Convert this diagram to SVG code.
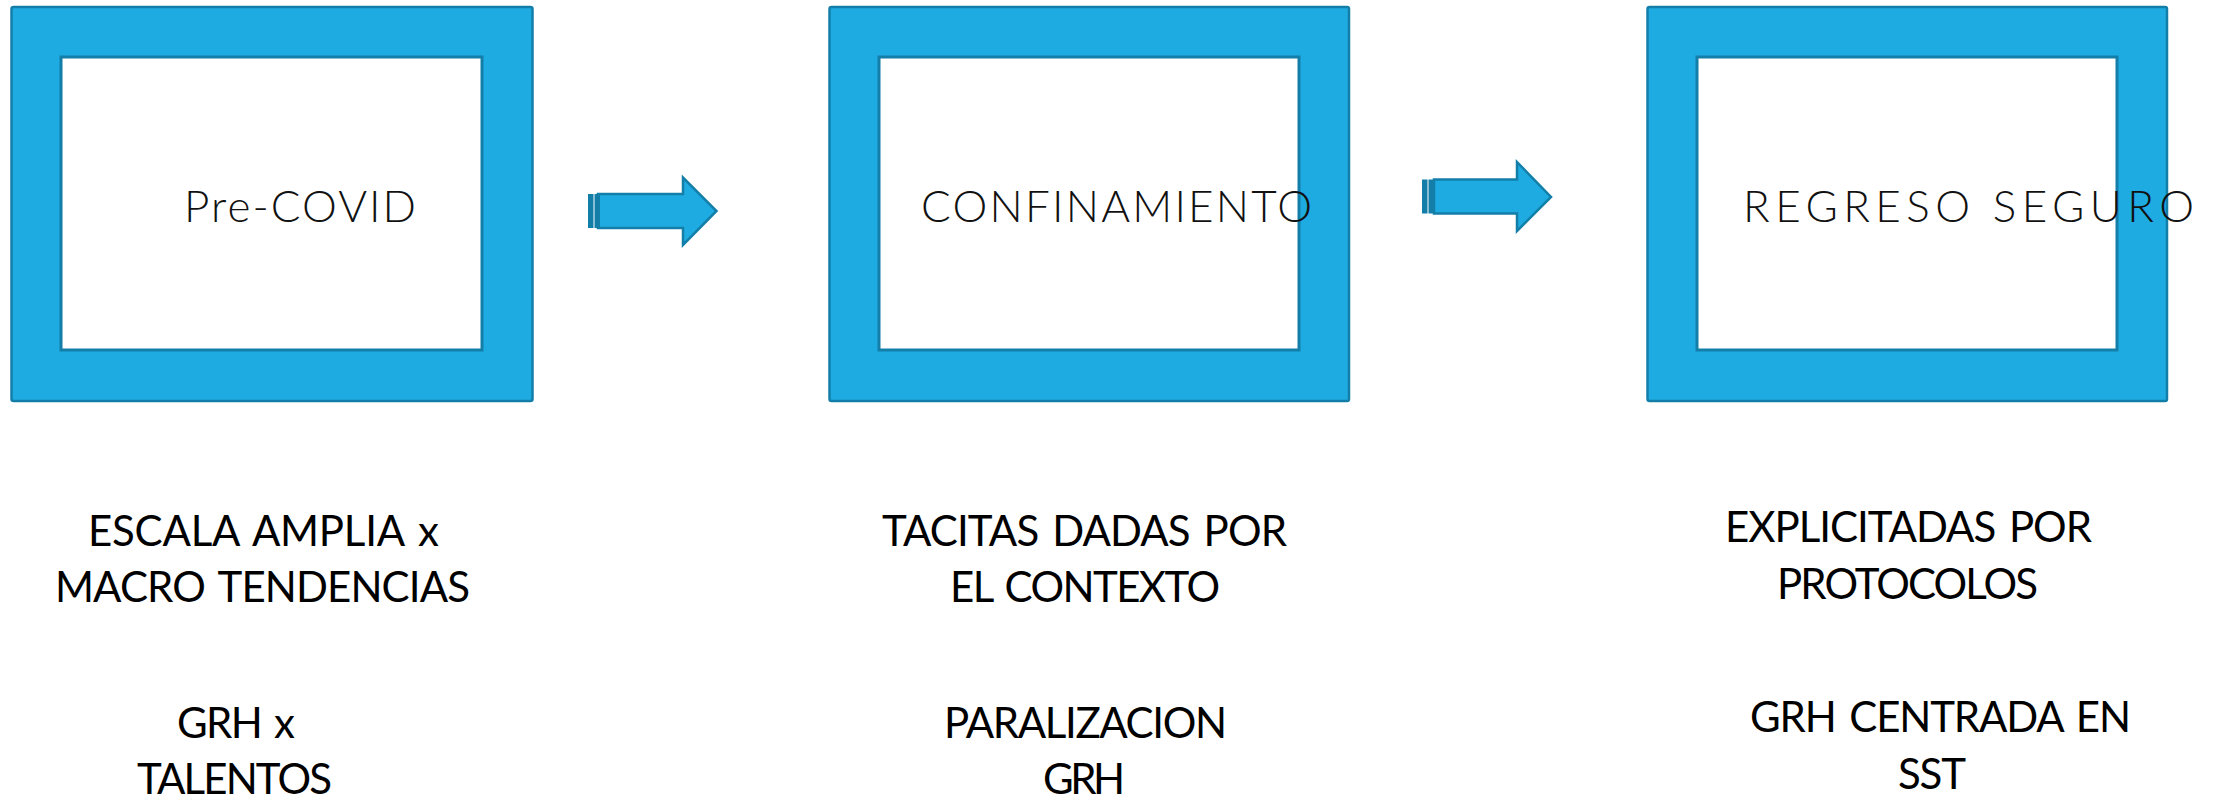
<svg xmlns="http://www.w3.org/2000/svg" width="2223" height="798" viewBox="0 0 2223 798">
<style>
.outer{fill:#1EABE2;stroke:#137FA9;stroke-width:2.5}
.inner{fill:#FFFFFF;stroke:#137FA9;stroke-width:3}
.title{font-family:Lato,"Open Sans","Liberation Sans",sans-serif;font-weight:300;font-size:44px;fill:#111111}
.body{font-family:Lato,"Open Sans","Liberation Sans",sans-serif;font-weight:400;font-size:42px;fill:#000000;word-spacing:4px}
.arrow{fill:#1EABE2;stroke:#137FA9;stroke-width:2.5;stroke-linejoin:miter}
.stripe{fill:#137FA9}
</style>
<rect width="2223" height="798" fill="#FFFFFF"/>
<g id="node-precovid">
<rect class="outer" x="11.5" y="7" width="521" height="394" rx="2"/>
<rect class="inner" x="61" y="57" width="421" height="293"/>
<text class="title" x="184" y="222" textLength="232" lengthAdjust="spacing">Pre-COVID</text>
</g>
<g id="node-confinamiento">
<rect class="outer" x="829.5" y="7" width="519.5" height="394" rx="2"/>
<rect class="inner" x="879" y="57" width="420" height="293"/>
<text class="title" x="921" y="222" textLength="391" lengthAdjust="spacing">CONFINAMIENTO</text>
</g>
<g id="node-regreso">
<rect class="outer" x="1647.5" y="7" width="519.5" height="394" rx="2"/>
<rect class="inner" x="1697" y="57" width="420" height="293"/>
<text class="title" x="1743" y="222" textLength="451" lengthAdjust="spacing">REGRESO SEGURO</text>
</g>
<g id="connectors">
<g id="arrow-1">
<path class="arrow" d="M598,194 L683,194 L683,177.5 L716.5,211 L683,245 L683,228 L598,228 Z"/>
<rect class="stripe" x="588" y="194" width="5.5" height="34"/>
<rect class="stripe" x="594.5" y="194" width="5.5" height="34"/>
</g>
<g id="arrow-2">
<path class="arrow" d="M1434,179.5 L1517,179.5 L1517,162 L1551,197 L1517,231 L1517,213.5 L1434,213.5 Z"/>
<rect class="stripe" x="1422" y="179.5" width="5.5" height="34"/>
<rect class="stripe" x="1428.5" y="179.5" width="5.5" height="34"/>
</g>
</g>
<g id="text-col1">
<text class="body" x="88" y="545.5" textLength="351" lengthAdjust="spacing">ESCALA AMPLIA x</text>
<text class="body" x="55" y="602" textLength="415" lengthAdjust="spacing">MACRO TENDENCIAS</text>
<text class="body" x="177" y="738" textLength="118" lengthAdjust="spacing">GRH x</text>
<text class="body" x="137" y="794" textLength="195" lengthAdjust="spacing">TALENTOS</text>
</g>
<g id="text-col2">
<text class="body" x="882" y="545.5" textLength="405" lengthAdjust="spacing">TACITAS DADAS POR</text>
<text class="body" x="950" y="602" textLength="270" lengthAdjust="spacing">EL CONTEXTO</text>
<text class="body" x="944" y="738" textLength="283" lengthAdjust="spacing">PARALIZACION</text>
<text class="body" x="1043" y="794" textLength="82" lengthAdjust="spacing">GRH</text>
</g>
<g id="text-col3">
<text class="body" x="1725" y="541.5" textLength="367" lengthAdjust="spacing">EXPLICITADAS POR</text>
<text class="body" x="1777" y="598.5" textLength="261" lengthAdjust="spacing">PROTOCOLOS</text>
<text class="body" x="1750" y="731.5" textLength="381" lengthAdjust="spacing">GRH CENTRADA EN</text>
<text class="body" x="1898" y="788.5" textLength="68" lengthAdjust="spacing">SST</text>
</g>
</svg>
